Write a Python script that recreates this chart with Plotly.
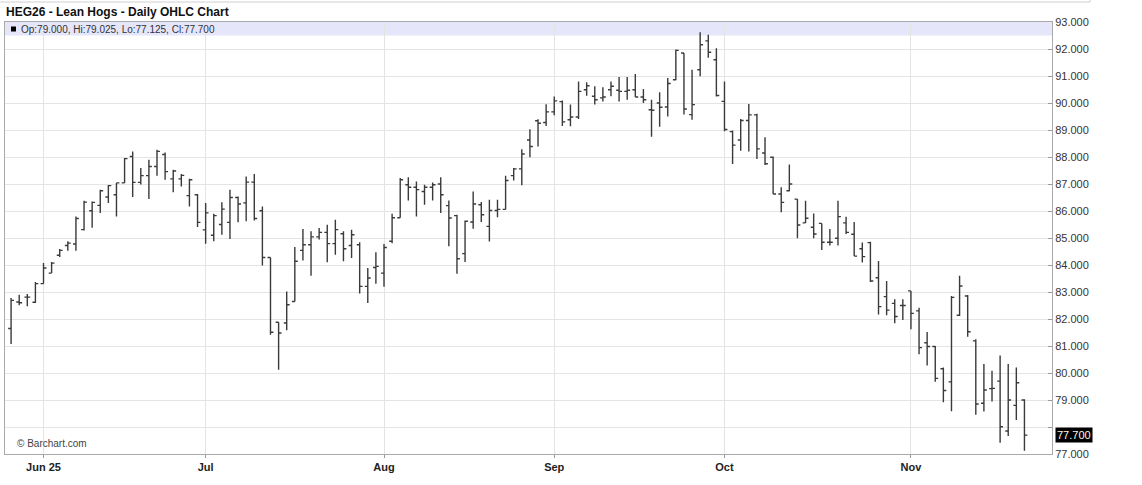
import plotly.graph_objects as go

# ---- data ----
may_days = [27, 28, 29, 30]
jun_days = [2, 3, 4, 5, 6, 9, 10, 11, 12, 13, 16, 17, 18, 20, 23, 24, 25, 26, 27, 30]
jul_days = [1, 2, 3, 7, 8, 9, 10, 11, 14, 15, 16, 17, 18, 21, 22, 23, 24, 25, 28, 29, 30, 31]
aug_days = [1, 4, 5, 6, 7, 8, 11, 12, 13, 14, 15, 18, 19, 20, 21, 22, 25, 26, 27, 28, 29]
sep_days = [2, 3, 4, 5, 8, 9, 10, 11, 12, 15, 16, 17, 18, 19, 22, 23, 24, 25, 26, 29, 30]
oct_days = [1, 2, 3, 6, 7, 8, 9, 10, 13, 14, 15, 16, 17, 20, 21, 22, 23, 24, 27, 28, 29, 30, 31]
nov_days = [3, 4, 5, 6, 7, 10, 11, 12, 13, 14, 17, 18, 19, 20, 21]

dates = ([f"2025-05-{d:02d}" for d in may_days] + [f"2025-06-{d:02d}" for d in jun_days] +
         [f"2025-07-{d:02d}" for d in jul_days] + [f"2025-08-{d:02d}" for d in aug_days] +
         [f"2025-09-{d:02d}" for d in sep_days] + [f"2025-10-{d:02d}" for d in oct_days] +
         [f"2025-11-{d:02d}" for d in nov_days])

opens = [81.65, 82.63, 82.81, 82.62, 83.31, 83.70, 84.36, 84.72, 84.78, 85.31,
         86.01, 86.21, 86.52, 86.60, 87.04, 88.02, 87.06, 87.31, 87.65, 88.09,
         87.19, 87.19, 86.57, 86.60, 85.30, 85.10, 85.50, 85.58, 86.50, 86.30,
         87.07, 86.01, 84.28, 81.88, 81.85, 82.65, 84.54, 84.75, 85.04, 85.21,
         84.79, 85.16, 84.72, 84.75, 83.21, 83.91, 83.70, 84.88, 85.75, 86.97,
         86.88, 86.72, 86.88, 87.00, 86.20, 85.83, 84.42, 85.59, 86.23, 85.43,
         86.02, 86.06, 87.31, 87.56, 88.63, 89.34, 89.28, 89.67, 90.05, 89.38,
         89.48, 90.49, 90.25, 90.19, 90.49, 90.47, 90.43, 90.49, 90.22, 89.75,
         90.00, 89.85, 90.86, 91.85, 89.57, 91.23, 92.30, 91.60, 90.06, 88.94,
         88.63, 89.35, 89.56, 88.15, 87.99, 86.63, 86.75, 86.44, 85.56, 85.40,
         85.54, 84.84, 84.99, 85.56, 85.14, 84.60, 84.83, 83.53, 82.83, 82.58,
         82.50, 83.04, 82.30, 81.12, 80.98, 80.16, 79.67, 82.14, 82.85, 81.19,
         78.88, 79.42, 79.70, 77.85, 78.80, 79.000]
highs = [82.78, 82.90, 82.93, 83.37, 84.07, 84.11, 84.59, 84.88, 85.80, 86.38,
         86.35, 86.79, 86.96, 87.04, 87.96, 88.20, 87.59, 87.90, 88.27, 88.17,
         87.53, 87.37, 87.19, 86.63, 86.30, 85.90, 86.32, 86.79, 86.54, 87.28,
         87.37, 86.17, 84.28, 81.88, 83.02, 84.67, 85.33, 85.25, 85.37, 85.49,
         85.68, 85.25, 85.31, 84.84, 83.89, 84.47, 84.78, 85.90, 87.22, 87.25,
         87.09, 86.97, 87.06, 87.25, 86.39, 85.86, 85.65, 86.72, 86.33, 86.42,
         86.42, 87.31, 87.59, 88.29, 89.03, 89.40, 89.95, 90.24, 90.09, 89.94,
         90.80, 90.77, 90.62, 90.58, 90.80, 90.96, 90.96, 91.07, 90.52, 90.12,
         90.40, 90.93, 91.98, 91.85, 91.23, 92.62, 92.53, 92.03, 90.80, 88.98,
         89.41, 89.96, 89.60, 88.73, 88.02, 86.88, 87.72, 86.44, 86.38, 85.91,
         85.54, 85.33, 86.38, 85.79, 85.59, 84.83, 84.86, 84.15, 83.41, 82.73,
         82.73, 83.04, 82.42, 81.52, 81.00, 80.20, 82.85, 83.60, 82.89, 81.25,
         80.33, 80.08, 80.65, 80.33, 80.20, 79.025]
lows = [81.07, 82.51, 82.47, 82.59, 83.31, 83.70, 84.30, 84.53, 84.53, 85.28,
        85.38, 85.93, 86.30, 85.80, 87.04, 86.52, 86.98, 86.44, 87.31, 87.16,
        86.69, 86.91, 86.17, 85.41, 84.79, 84.88, 85.12, 84.96, 85.58, 85.62,
        85.65, 83.98, 81.42, 80.12, 81.58, 82.65, 84.17, 83.60, 84.94, 84.10,
        84.38, 84.14, 84.26, 82.94, 82.59, 83.31, 83.19, 84.81, 85.75, 86.39,
        85.80, 86.23, 86.39, 85.93, 84.69, 83.68, 84.11, 85.34, 85.59, 84.87,
        85.77, 86.06, 87.13, 86.95, 87.99, 88.39, 89.15, 89.55, 89.15, 89.14,
        89.41, 90.27, 89.94, 90.06, 90.25, 90.06, 90.12, 90.22, 90.00, 88.75,
        89.12, 89.50, 90.84, 89.57, 89.38, 90.99, 91.68, 90.24, 88.95, 87.74,
        88.23, 88.20, 87.93, 87.70, 86.63, 85.95, 86.73, 84.99, 85.56, 84.99,
        84.56, 84.72, 84.72, 85.15, 84.33, 84.09, 83.37, 82.17, 82.14, 81.84,
        81.96, 81.62, 80.69, 80.28, 79.68, 78.92, 78.58, 82.11, 81.34, 78.45,
        78.57, 78.94, 77.42, 77.67, 78.26, 77.125]
closes = [82.69, 82.60, 82.81, 83.31, 83.89, 84.07, 84.54, 84.81, 85.72, 86.33,
          86.32, 86.75, 86.94, 87.04, 87.94, 87.06, 87.31, 87.65, 88.21, 87.46,
          87.48, 87.32, 87.16, 85.58, 85.93, 85.83, 86.07, 86.50, 86.26, 87.07,
          85.72, 84.28, 81.51, 81.48, 82.53, 84.14, 84.75, 85.04, 85.21, 84.79,
          85.31, 84.60, 85.12, 83.21, 83.52, 83.95, 84.65, 85.75, 87.16, 86.88,
          86.79, 86.88, 86.97, 86.60, 85.74, 84.23, 85.62, 86.26, 85.86, 86.02,
          86.06, 87.13, 87.56, 88.11, 88.39, 89.25, 89.67, 90.08, 89.30, 89.48,
          90.43, 90.64, 90.12, 90.22, 90.62, 90.43, 90.47, 90.22, 90.12, 89.73,
          89.84, 90.72, 91.95, 89.78, 89.94, 92.16, 91.88, 90.28, 89.02, 88.44,
          89.35, 89.56, 88.30, 87.75, 86.63, 86.32, 87.00, 85.48, 85.73, 85.15,
          84.84, 84.84, 85.79, 85.21, 84.33, 84.31, 83.41, 82.46, 82.33, 82.09,
          82.50, 82.21, 80.94, 80.98, 79.80, 79.35, 82.80, 83.22, 81.53, 78.85,
          79.37, 79.43, 78.01, 79.00, 79.64, 77.700]

month_ticks = ["2025-06-02", "2025-07-01", "2025-08-01", "2025-09-02", "2025-10-01", "2025-11-03"]
month_labels = ["Jun 25", "Jul", "Aug", "Sep", "Oct", "Nov"]
price_ticks = list(range(77, 94))
price_labels = ["" if v == 78 else f"{v:.3f}" for v in price_ticks]
last_close = closes[-1]

FONT = "Liberation Sans, Arial, sans-serif"
BAR = "#3a3a3a"

fig = go.Figure(go.Ohlc(
    x=dates, open=opens, high=highs, low=lows, close=closes,
    increasing=dict(line=dict(color=BAR, width=1.4)),
    decreasing=dict(line=dict(color=BAR, width=1.4)),
    tickwidth=0.36, hoverinfo="skip", showlegend=False,
))

# plot area: x 5..1052, y 22..454 in pixels
L, R, T, B = 5, 1052, 22, 454
W, H = 1142, 485
def px(x):
    return (x - L) / (R - L)
def py(y):
    return (B - y) / (B - T)

fig.update_layout(
    width=W, height=H,
    margin=dict(l=L, r=W - R, t=T, b=H - B),
    paper_bgcolor="white", plot_bgcolor="white",
    font=dict(family=FONT, color="#333333", size=11),
    xaxis=dict(
        type="category", range=[-0.75, 128.4],
        tickvals=month_ticks, ticktext=month_labels,
        showgrid=True, gridcolor="#e4e4e4", gridwidth=1,
        ticks="outside", ticklen=3, tickcolor="#999999",
        showline=True, linecolor="#aaaaaa", linewidth=1, mirror=True,
        tickfont=dict(family=FONT, size=11, color="#222222", weight="bold"),
        rangeslider=dict(visible=False), fixedrange=True,
    ),
    yaxis=dict(
        side="right", range=[77, 93],
        tickvals=price_ticks, ticktext=price_labels,
        showgrid=True, gridcolor="#e4e4e4", gridwidth=1,
        ticks="inside", ticklen=4, tickcolor="#999999",
        showline=True, linecolor="#aaaaaa", linewidth=1, mirror=True,
        tickfont=dict(family=FONT, size=11, color="#333333"),
        zeroline=False, fixedrange=True,
    ),
    shapes=[
        dict(type="rect", xref="x domain", yref="paper", x0=0, x1=1,
             y0=py(35.5), y1=1, fillcolor="#e6e6fa", line=dict(width=0), layer="below"),
        dict(type="rect", xref="paper", yref="paper", x0=px(11), x1=px(16),
             y0=py(31.5), y1=py(26.5), fillcolor="black", line=dict(width=0)),
        dict(type="line", xref="paper", yref="paper", x0=px(0), x1=px(1090),
             y0=py(2), y1=py(2), line=dict(color="#d0d0d0", width=1)),
        dict(type="line", xref="paper", yref="paper", x0=px(1090), x1=px(1090),
             y0=py(0), y1=py(2), line=dict(color="#d0d0d0", width=1)),
    ],
    annotations=[
        dict(text="<b>HEG26 - Lean Hogs - Daily OHLC Chart</b>", xref="paper", yref="paper",
             x=px(4), y=py(12), xanchor="left", yanchor="middle", showarrow=False,
             font=dict(family=FONT, size=12, color="#111111")),
        dict(text=f"Op:{opens[-1]:.3f}, Hi:{highs[-1]:.3f}, Lo:{lows[-1]:.3f}, Cl:{closes[-1]:.3f}",
             xref="paper", yref="paper", x=px(19), y=py(29), xanchor="left", yanchor="middle",
             showarrow=False, font=dict(family=FONT, size=10, color="#333333")),
        dict(text="© Barchart.com", xref="paper", yref="paper", x=px(15), y=py(443),
             xanchor="left", yanchor="middle", showarrow=False,
             font=dict(family=FONT, size=10, color="#444444")),
        dict(text=f"{last_close:.3f}", xref="paper", yref="y", x=1, y=last_close,
             xanchor="left", yanchor="middle", xshift=3, showarrow=False,
             bgcolor="black", borderpad=1,
             font=dict(family=FONT, size=11, color="#fff8e0")),
    ],
)

fig.write_html("out.html",
               config={"displayModeBar": False, "staticPlot": True},
               post_script="document.body.style.margin='0';document.body.style.overflow='hidden';")
